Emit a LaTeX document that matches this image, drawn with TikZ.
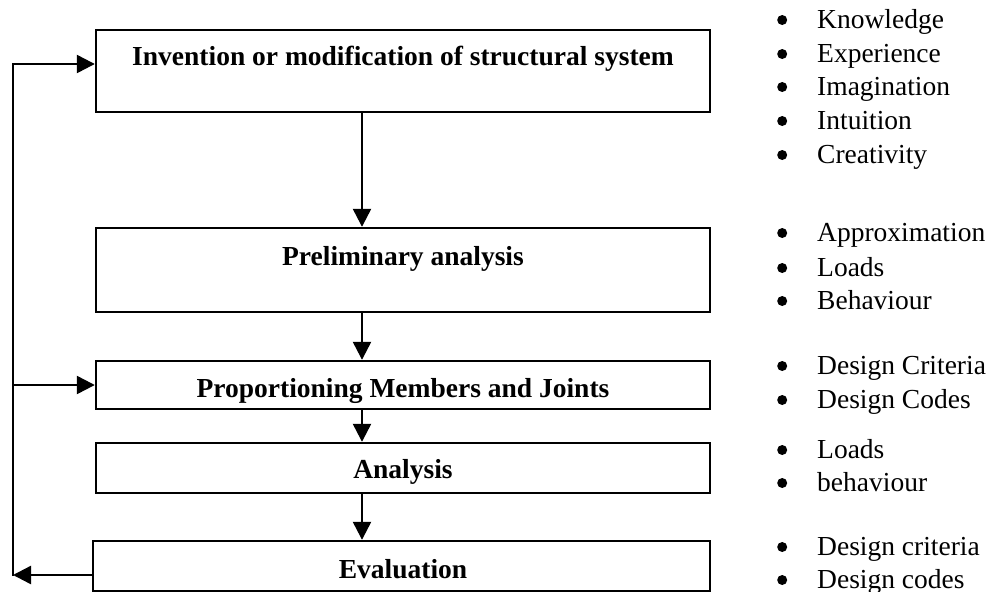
\documentclass[tikz,border=0pt]{standalone}
\usepackage{fontspec}
\setmainfont{Liberation Serif}
\usetikzlibrary{arrows.meta}
\tikzset{
  boxnode/.style={draw, line width=2.4pt, minimum width=614pt, inner sep=0pt},
  boxtext/.style={font=\fontsize{27.5}{33}\selectfont\bfseries, anchor=base, inner sep=0pt},
  itemtext/.style={font=\fontsize{27.5}{33}\selectfont, anchor=base west, inner sep=0pt},
  arr/.style={line width=2.4pt, -{Triangle[length=18pt,width=18pt]}},
  plain/.style={line width=2.4pt}
}
\newcommand{\bul}[1]{\makebox[40pt][l]{\raisebox{3pt}{\tikz\fill (0,0) circle (5pt);}}#1}
\begin{document}
\begin{tikzpicture}[x=1pt,y=-1pt]
\useasboundingbox (0,0) rectangle (989,592);
% boxes
\node[boxnode, minimum height=82pt] (b1) at (403,71) {};
\node[boxnode, minimum height=84pt] (b2) at (403,270) {};
\node[boxnode, minimum height=48pt] (b3) at (403,385) {};
\node[boxnode, minimum height=50pt] (b4) at (403,468) {};
\node[boxnode, minimum height=50pt, minimum width=617pt] (b5) at (401.5,566) {};
% box texts
\node[boxtext] (t1) at (403,65) {Invention or modification of structural system};
\node[boxtext] (t2) at (403,265) {Preliminary analysis};
\node[boxtext] (t3) at (403,397) {Proportioning Members and Joints};
\node[boxtext] (t4) at (403,478) {Analysis};
\node[boxtext] (t5) at (403,578) {Evaluation};
% down arrows
\coordinate (ax) at (362,0);
\draw[arr] (b1.south -| ax) -- (b2.north -| ax);
\draw[arr] (b2.south -| ax) -- (b3.north -| ax);
\draw[arr] (b3.south -| ax) -- (b4.north -| ax);
\draw[arr] (b4.south -| ax) -- (b5.north -| ax);
% feedback loop
\coordinate (Lb) at (13,575);
\coordinate (Lt) at (13,64);
\coordinate (Lm) at (13,385);
\draw[arr] (b5.west |- Lb) -- (Lb);
\draw[plain, line cap=rect] (Lb) -- (Lt);
\draw[arr] (Lt) -- (b1.west |- Lt);
\draw[arr] (Lm) -- (b3.west |- Lm);
% side lists
\node[itemtext] (k1) at (777,28) {\bul{Knowledge}};
\node[itemtext] (k2) at (777,62) {\bul{Experience}};
\node[itemtext] (k3) at (777,95) {\bul{Imagination}};
\node[itemtext] (k4) at (777,129) {\bul{Intuition}};
\node[itemtext] (k5) at (777,163) {\bul{Creativity}};
\node[itemtext] (p1) at (777,241) {\bul{Approximation}};
\node[itemtext] (p2) at (777,276) {\bul{Loads}};
\node[itemtext] (p3) at (777,309) {\bul{Behaviour}};
\node[itemtext] (d1) at (777,374) {\bul{Design Criteria}};
\node[itemtext] (d2) at (777,408) {\bul{Design Codes}};
\node[itemtext] (a1) at (777,458) {\bul{Loads}};
\node[itemtext] (a2) at (777,491) {\bul{behaviour}};
\node[itemtext] (e1) at (777,555) {\bul{Design criteria}};
\node[itemtext] (e2) at (777,588) {\bul{Design codes}};
\end{tikzpicture}
\end{document}
